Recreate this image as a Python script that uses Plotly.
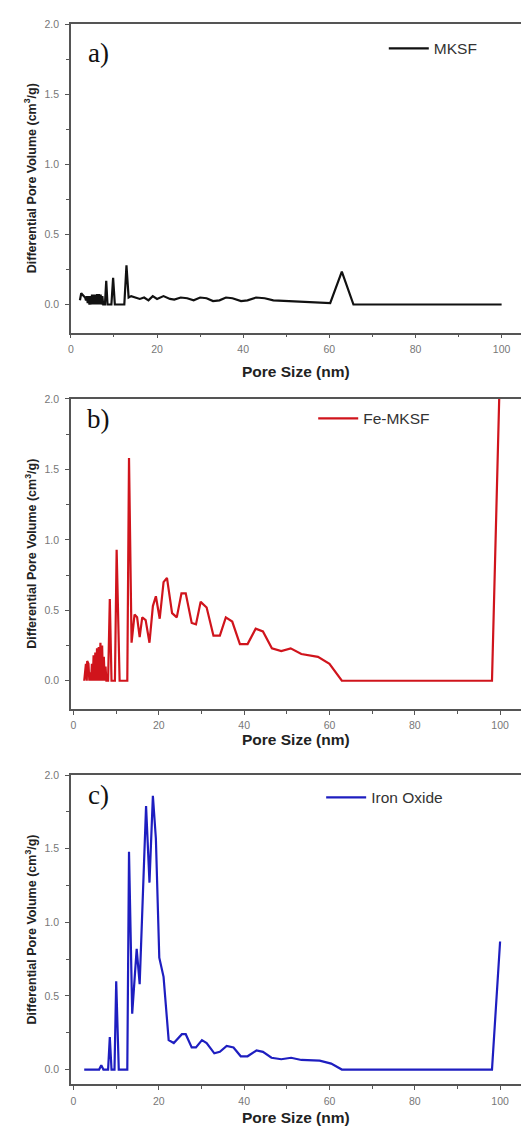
import plotly.graph_objects as go

# ---------------- data ----------------
mksf_x = [2.1, 2.4, 2.7, 3.0, 3.3, 3.5, 3.7, 3.9, 4.1, 4.3, 4.5, 4.7, 4.9, 5.1, 5.3, 5.5, 5.7, 5.9,
          6.1, 6.3, 6.5, 6.7, 6.9, 7.1, 7.3, 7.5, 7.9, 8.2, 8.5, 9.4, 9.8, 10.2, 12.4, 12.9, 13.4,
          14.0, 15.0, 16.0, 17.0, 18.0, 19.0, 20.0, 21.5, 23.0, 24.0, 25.5, 27.0, 28.5, 30.0, 31.5,
          33.0, 34.5, 36.0, 37.5, 39.5, 41.0, 43.0, 45.0, 47.0, 50.0, 55.0, 60.2, 62.9, 65.6, 100.0]
mksf_y = [0.03, 0.08, 0.07, 0.06, 0.05, 0.03, 0.06, 0.01, 0.06, 0.0, 0.06, 0.0, 0.07, 0.0, 0.07, 0.0, 0.07, 0.0,
          0.075, 0.0, 0.075, 0.0, 0.07, 0.0, 0.06, 0.0, 0.0, 0.17, 0.0, 0.0, 0.19, 0.0, 0.0, 0.28, 0.05,
          0.06, 0.05, 0.04, 0.05, 0.03, 0.06, 0.04, 0.06, 0.04, 0.035, 0.05, 0.045, 0.03, 0.05, 0.045,
          0.025, 0.03, 0.05, 0.045, 0.025, 0.03, 0.05, 0.045, 0.03, 0.025, 0.02, 0.01, 0.235, 0.0, 0.0]

femksf_x = [2.5, 2.7, 2.9, 3.1, 3.2, 3.5, 3.7, 3.9, 4.1, 4.3, 4.5, 4.7, 4.9, 5.1, 5.3, 5.5, 5.7, 5.9,
            6.1, 6.3, 6.5, 6.7, 6.9, 7.1, 7.3, 7.5, 7.7, 8.1, 8.5, 8.9, 9.7, 10.1, 10.8, 12.6, 13.0,
            13.6, 14.3, 14.9, 15.5, 16.1, 16.9, 17.8, 18.6, 19.3, 20.2, 21.1, 21.9, 23.1, 24.2, 25.3,
            26.3, 27.7, 28.7, 29.8, 31.2, 32.8, 34.3, 35.7, 37.2, 39.0, 40.8, 42.7, 44.4, 46.5, 48.7,
            50.9, 53.4, 57.3, 60.0, 62.9, 98.1, 100.0]
femksf_y = [0.0, 0.08, 0.12, 0.0, 0.14, 0.12, 0.0, 0.06, 0.0, 0.12, 0.0, 0.18, 0.0, 0.2, 0.0, 0.23, 0.0, 0.24,
            0.0, 0.27, 0.0, 0.25, 0.0, 0.17, 0.0, 0.1, 0.0, 0.0, 0.58, 0.0, 0.0, 0.93, 0.0, 0.0, 1.58,
            0.27, 0.47, 0.45, 0.31, 0.45, 0.43, 0.27, 0.53, 0.6, 0.44, 0.7, 0.73, 0.48, 0.45, 0.62,
            0.62, 0.41, 0.4, 0.56, 0.52, 0.32, 0.32, 0.45, 0.42, 0.26, 0.26, 0.37, 0.35, 0.23, 0.21,
            0.23, 0.19, 0.17, 0.12, 0.0, 0.0, 2.25]

iron_x = [2.5, 6.0, 6.5, 7.0, 8.1, 8.5, 8.9, 9.6, 10.0, 10.6, 12.6, 13.0, 13.75, 14.8, 15.5, 17.0, 17.8,
          18.6, 19.3, 20.1, 21.1, 22.3, 23.5, 25.4, 26.3, 27.7, 28.7, 30.1, 31.2, 33.0, 34.3, 35.9,
          37.5, 39.2, 40.8, 42.9, 44.4, 46.4, 48.7, 51.0, 53.4, 57.7, 60.4, 62.9, 98.1, 100.0]
iron_y = [0.0, 0.0, 0.03, 0.0, 0.0, 0.22, 0.0, 0.0, 0.6, 0.0, 0.0, 1.48, 0.38, 0.82, 0.58, 1.79, 1.27,
          1.86, 1.57, 0.76, 0.63, 0.2, 0.18, 0.24, 0.24, 0.15, 0.15, 0.2, 0.18, 0.11, 0.12, 0.16,
          0.15, 0.09, 0.09, 0.13, 0.12, 0.08, 0.07, 0.08, 0.065, 0.06, 0.04, 0.0, 0.0, 0.87]

series_names = ["MKSF", "Fe-MKSF", "Iron Oxide"]
panel_labels = ["a)", "b)", "c)"]
x_title = "Pore Size (nm)"
y_title = "Differential Pore Volume (cm<sup>3</sup>/g)"

# ---------------- layout helpers ----------------
W, H = 521, 1131
def py(p):  # page pixel y -> paper
    return 1 - p / H
def px(p):
    return p / W

colors = ["#111111", "#d0141c", "#1e1ec0"]
xs = [mksf_x, femksf_x, iron_x]
ys = [mksf_y, femksf_y, iron_y]
boxes = [(18.3, 328.3), (395, 706.7), (773.3, 1084)]
yranges = [[-0.2, 2.0], [-0.2, 2.0], [-0.1, 2.0]]
xranges = [[0, 104.5], [-0.62, 104.9], [-0.62, 104.9]]
legend_pos = [(383, 43), (312, 415), (320, 796)]
label_pos = [(83, 47), (82, 415), (83, 793)]
xtitle_y = [367, 737, 1117]

fig = go.Figure()
axis_line = "#555555"
tickfont = dict(family="Arial, Liberation Sans, sans-serif", size=10.5, color="#777777")
xtitlefont = dict(family="Arial, Liberation Sans, sans-serif", size=15.5, color="#222222")
ytitlefont = dict(family="Arial, Liberation Sans, sans-serif", size=12.5, color="#222222")

layout_upd = {}
annotations = []
for i in range(3):
    xa = "x" if i == 0 else f"x{i+1}"
    ya = "y" if i == 0 else f"y{i+1}"
    leg = "legend" if i == 0 else f"legend{i+1}"
    fig.add_trace(go.Scatter(
        x=xs[i], y=ys[i], mode="lines", name=series_names[i],
        line=dict(color=colors[i], width=2.2),
        xaxis=xa, yaxis=ya, legend=leg, showlegend=True))
    top, bot = boxes[i]
    xkey = "xaxis" if i == 0 else f"xaxis{i+1}"
    ykey = "yaxis" if i == 0 else f"yaxis{i+1}"
    layout_upd[xkey] = dict(
        domain=[px(68.3), 1.0], anchor=ya, range=xranges[i],
        showline=True, linecolor=axis_line, linewidth=1.5, mirror=True,
        ticks="outside", ticklen=4, tickwidth=1, tickcolor=axis_line,
        tick0=0, dtick=20, showgrid=False, zeroline=False,
        tickfont=tickfont, ticklabelstandoff=2,
        minor=dict(ticks="outside", ticklen=3, dtick=10, tick0=0, tickcolor=axis_line, showgrid=False))
    layout_upd[ykey] = dict(
        domain=[py(bot), py(top)], anchor=xa, range=yranges[i],
        showline=True, linecolor=axis_line, linewidth=1.5, mirror=False,
        ticks="outside", ticklen=4, tickwidth=1, tickcolor=axis_line,
        tick0=0, dtick=0.5, tickformat=".1f", showgrid=False, zeroline=False,
        tickfont=tickfont, ticklabelstandoff=4,
        minor=dict(ticks="outside", ticklen=3, dtick=0.25, tick0=0, tickcolor=axis_line, showgrid=False))
    lx, lyy = legend_pos[i]
    layout_upd[leg] = dict(
        x=px(lx), y=py(lyy), xanchor="left", yanchor="middle",
        bgcolor="rgba(0,0,0,0)", borderwidth=0, itemwidth=40,
        font=dict(family="Arial, Liberation Sans, sans-serif", size=15.5, color="#333333"))
    annotations.append(dict(
        x=px(label_pos[i][0]), y=py(label_pos[i][1]), xref="paper", yref="paper",
        xanchor="left", yanchor="middle", showarrow=False, text=panel_labels[i],
        font=dict(family="Liberation Serif, Times New Roman, serif", size=27, color="#111111")))
    annotations.append(dict(
        x=px(295), y=py(xtitle_y[i]), xref="paper", yref="paper",
        xanchor="center", yanchor="middle", showarrow=False, text=f"<b>{x_title}</b>",
        font=xtitlefont))
    annotations.append(dict(
        x=px(28), y=py((top + bot) / 2), xref="paper", yref="paper",
        xanchor="center", yanchor="middle", showarrow=False, text=f"<b>{y_title}</b>",
        textangle=-90, font=ytitlefont))

fig.update_layout(
    width=W, height=H, margin=dict(l=0, r=0, t=0, b=0),
    paper_bgcolor="white", plot_bgcolor="white",
    annotations=annotations, **layout_upd)

fig.write_html("out.html")
